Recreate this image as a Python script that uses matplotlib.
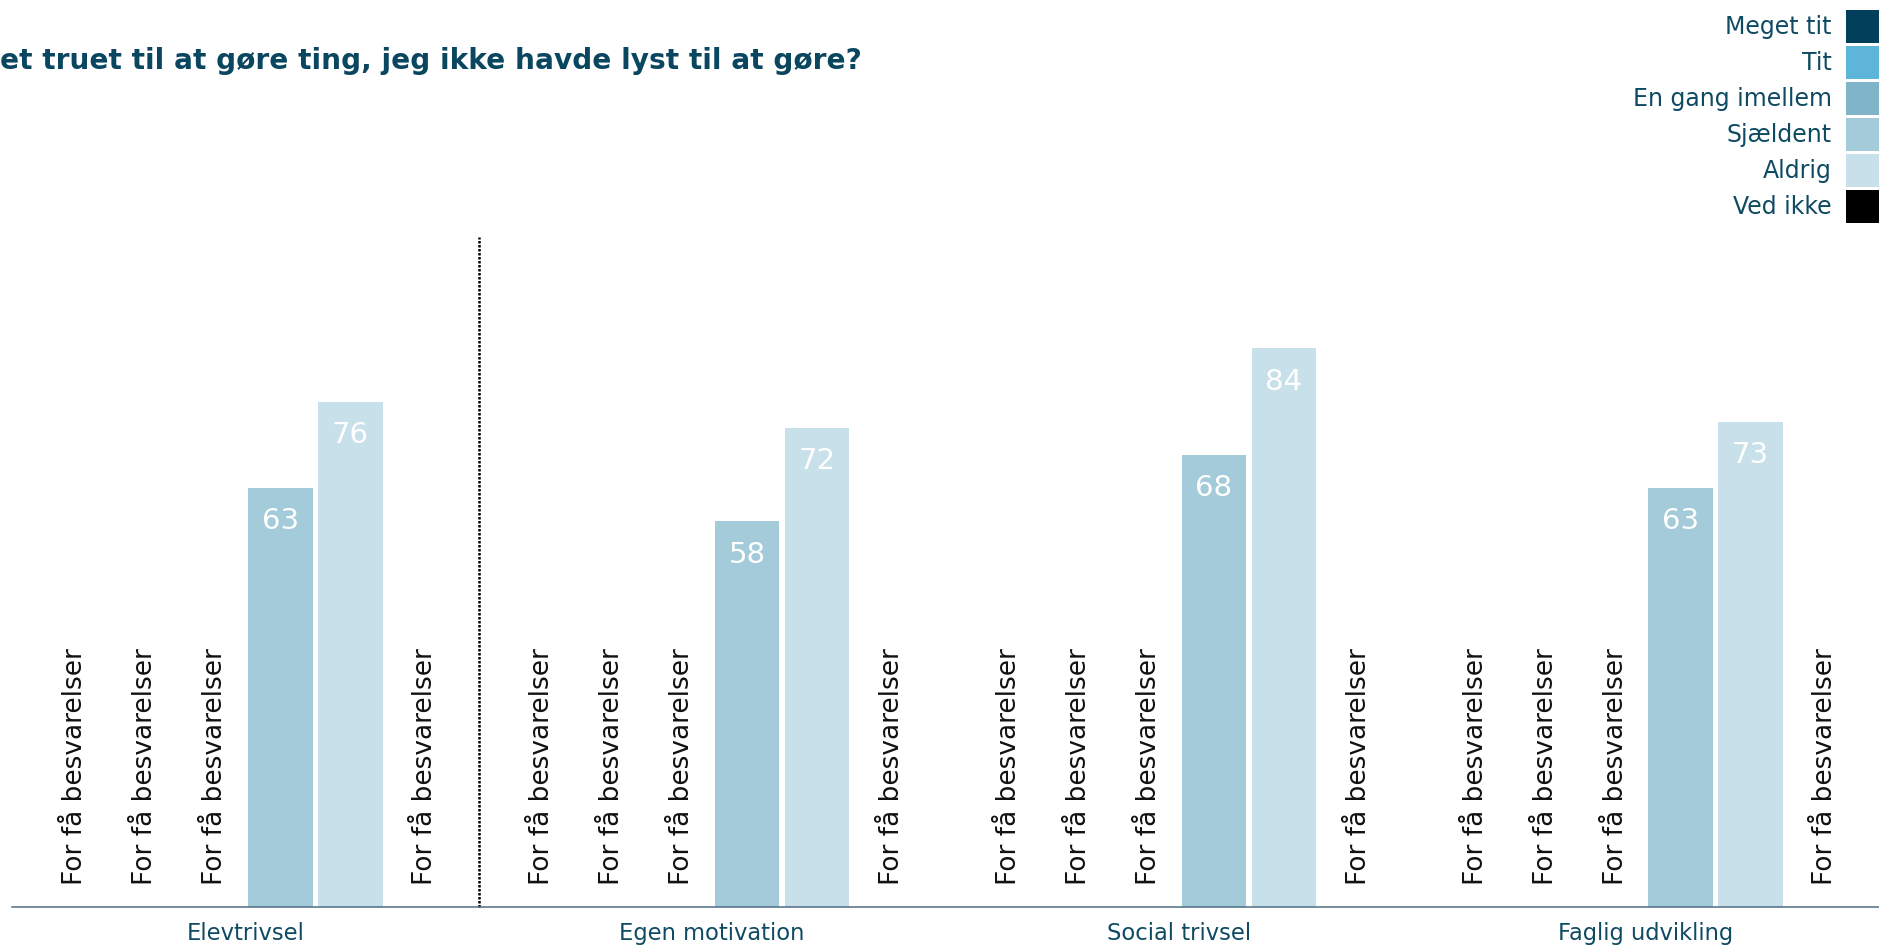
import matplotlib
matplotlib.use("Agg")
import matplotlib.pyplot as plt
from matplotlib.patches import Patch

# data
categories = ["Elevtrivsel", "Egen motivation", "Social trivsel", "Faglig udvikling"]
series = ["Meget tit", "Tit", "En gang imellem", "Sjældent", "Aldrig", "Ved ikke"]
meget_tit = [None, None, None, None]
tit = [None, None, None, None]
en_gang_imellem = [None, None, None, None]
sjaeldent = [63, 58, 68, 63]
aldrig = [76, 72, 84, 73]
ved_ikke = [None, None, None, None]
values = [meget_tit, tit, en_gang_imellem, sjaeldent, aldrig, ved_ikke]

colors = ["#023f5a", "#5db5d9", "#7fb4c9", "#a3cbd9", "#c8e0ea", "#000000"]
title = "et truet til at gøre ting, jeg ikke havde lyst til at gøre?"
missing_text = "For få besvarelser"
text_color = "#0e4a62"

plt.rcParams["font.family"] = ["DejaVu Sans"]

W, H = 1879, 947
fig = plt.figure(figsize=(W / 100, H / 100), dpi=100)
ax = fig.add_axes([12 / W, 40 / H, 1867 / W, 665 / H])

group_w = 467 / 70  # group width in slot units
n = len(series)
for g, cat in enumerate(categories):
    center = g * group_w + group_w / 2
    for i, vals in enumerate(values):
        x = center + (i - (n - 1) / 2)
        v = vals[g]
        if v is None:
            ax.text(x + 0.07, 3.3, missing_text, rotation=90, ha="center",
                    va="bottom", fontsize=19, color="#111111")
        else:
            ax.bar(x, v, width=0.92, color=colors[i])
            ax.text(x, v - 5, str(v), ha="center", va="center",
                    fontsize=21, color="white")

ax.axvline(group_w, ymin=0, ymax=1.008, color="black", lw=1.8,
           ls=(0, (1, 0.6)), clip_on=False)

ax.set_xlim(0, 4 * group_w)
ax.set_ylim(0, 100)
ax.set_xticks([g * group_w + group_w / 2 for g in range(len(categories))])
ax.set_xticklabels(categories, fontsize=16.3, color=text_color)
ax.tick_params(axis="x", length=0, pad=11)
ax.set_yticks([])
for s in ["top", "right", "left"]:
    ax.spines[s].set_visible(False)
ax.spines["bottom"].set_color("#4f6d84")
ax.spines["bottom"].set_linewidth(1.1)

fig.text(0, 1 - 61 / H, title, fontsize=20.2, fontweight="bold",
         color="#0a4660", ha="left", va="center")

handles = [Patch(facecolor=c, edgecolor="none") for c in colors]
fig.legend(handles, series, loc="upper right", bbox_to_anchor=(1, 1 - 10 / H),
           frameon=False, markerfirst=False, fontsize=17,
           handlelength=1.4, handleheight=1.78, handletextpad=0.6,
           labelspacing=0.12, borderpad=0, borderaxespad=0,
           labelcolor=text_color)

fig.savefig("out.png", dpi=100)
